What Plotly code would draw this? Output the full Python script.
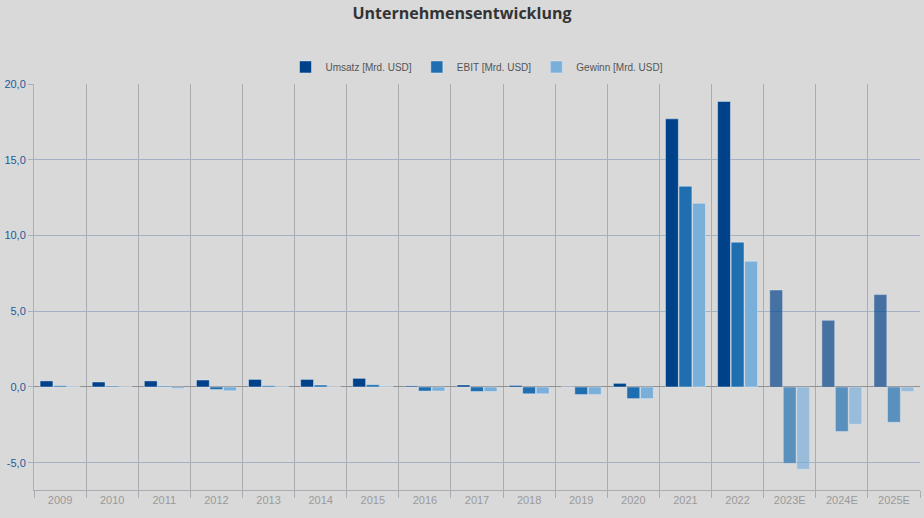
import plotly.graph_objects as go

categories = ["2009", "2010", "2011", "2012", "2013", "2014", "2015", "2016", "2017",
              "2018", "2019", "2020", "2021", "2022", "2023E", "2024E", "2025E"]
umsatz = [0.40, 0.33, 0.40, 0.46, 0.50, 0.50, 0.57, 0.07, 0.13, 0.10, 0.02, 0.24,
          17.7, 18.85, 6.4, 4.4, 6.1]
ebit = [0.08, 0.06, 0.06, -0.17, 0.08, 0.13, 0.15, -0.27, -0.30, -0.45, -0.50, -0.77,
        13.25, 9.56, -5.03, -2.94, -2.33]
gewinn = [0.04, 0.02, -0.10, -0.25, 0.02, 0.02, 0.05, -0.27, -0.30, -0.45, -0.50, -0.77,
          12.13, 8.30, -5.43, -2.46, -0.30]
series_names = ["Umsatz [Mrd. USD]", "EBIT [Mrd. USD]", "Gewinn [Mrd. USD]"]
colors = ["#00428a", "#1f6fb0", "#7aafd9"]

opac = [0.68 if c.endswith("E") else 1.0 for c in categories]

fig = go.Figure()
for name, vals, col in zip(series_names, [umsatz, ebit, gewinn], colors):
    fig.add_trace(go.Bar(
        x=categories, y=vals, name=name,
        marker=dict(color=col, opacity=opac,
                    line=dict(color="rgba(235,240,248,0.45)", width=1)),
    ))

fig.update_layout(
    width=924, height=518,
    paper_bgcolor="#d9d9d9", plot_bgcolor="#d9d9d9",
    margin=dict(l=32, r=4, t=84, b=28),
    barmode="group", bargap=0.22, bargroupgap=0.05,
    title=dict(text="<b>Unternehmensentwicklung</b>", x=0.5, xanchor="center",
               y=0.985, yanchor="top",
               font=dict(family="Open Sans", size=16, color="#333333")),
    legend=dict(orientation="h", x=0.5, xanchor="center", y=1.042, yanchor="middle",
                font=dict(family="Arial, Liberation Sans", size=10, color="#555555"),
                itemwidth=30, traceorder="normal", bgcolor="rgba(0,0,0,0)",
                tracegroupgap=0),
    showlegend=True,
    font=dict(family="Arial, Liberation Sans"),
)
fig.update_xaxes(
    type="category", tickson="boundaries", showgrid=True, gridcolor="#a9adb2",
    gridwidth=1, ticks="outside", ticklen=7, tickcolor="#a9adb2",
    showline=True, linecolor="#a9adb2", linewidth=1,
    tickfont=dict(size=11, color="#999999"), fixedrange=True,
)
fig.update_yaxes(
    range=[-6.8, 20], tickvals=[-5, 0, 5, 10, 15, 20],
    ticktext=["-5,0", "0,0", "5,0", "10,0", "15,0", "20,0"],
    showgrid=True, gridcolor="#a3b1c3", gridwidth=1,
    zeroline=True, zerolinecolor="#909090", zerolinewidth=1,
    ticks="outside", ticklen=5, tickcolor="#a3b1c3",
    showline=True, linecolor="#a3b1c3", linewidth=1,
    tickfont=dict(size=11, color="#1f5a99"),
)

fig.write_html("out.html", config={"displayModeBar": False},
               post_script="document.body.style.margin='0';document.body.style.overflow='hidden';")
